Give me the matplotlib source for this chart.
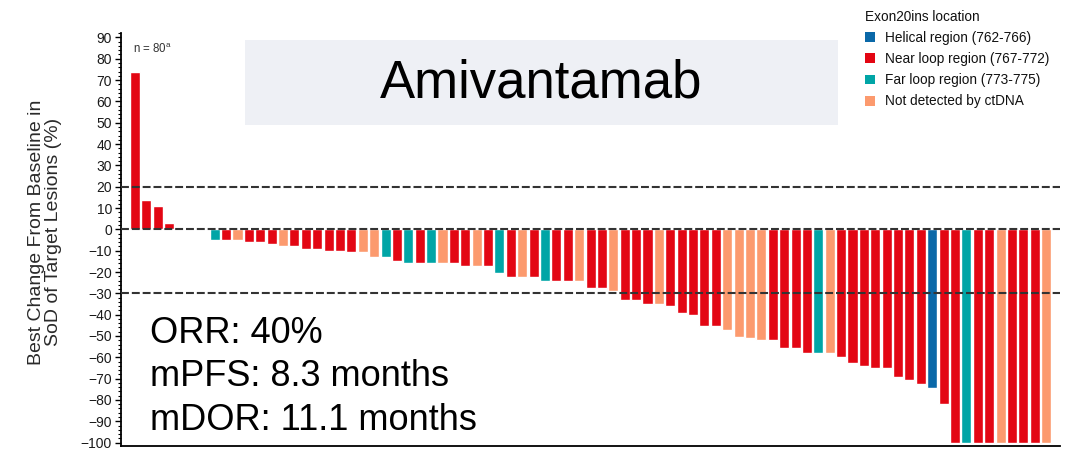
import matplotlib
matplotlib.use('Agg')
import matplotlib.pyplot as plt
import numpy as np
from matplotlib.patches import Patch, Rectangle
from matplotlib.ticker import MultipleLocator

plt.rcParams['font.family'] = ['Liberation Sans', 'DejaVu Sans']

# best change from baseline (%), ordered as in the waterfall
positive = [74, 14, 11, 3]
no_change = [0, 0, 0]
negative = [-5, -5, -5, -6, -6, -7, -8, -8, -9, -9,
            -10, -10, -10.5, -10.5, -13, -13, -14.7, -15.7, -15.7, -15.7,
            -15.7, -15.7, -17.2, -17.2, -17.2, -20.6, -22.3, -22.3, -22.3, -24,
            -24, -24, -24, -27.3, -27.3, -29, -33.3, -33.3, -35.2, -35.2,
            -36, -39.4, -40.2, -45.3, -45.3, -47, -50.3, -51.1, -52, -52,
            -55.5, -55.5, -58, -58, -58, -59.7, -62.5, -64, -65, -65,
            -69, -70.8, -72.3, -74.2, -81.7, -100, -100, -100, -100, -100,
            -100, -100, -100, -100]
# H helical, N near loop, F far loop, U not detected by ctDNA
positive_loc = ['N', 'N', 'N', 'N']
no_change_loc = ['N', 'N', 'N']
negative_loc = ['F', 'N', 'U', 'N', 'N', 'N', 'U', 'N', 'N', 'N',
                'N', 'N', 'N', 'U', 'U', 'F', 'N', 'F', 'N', 'F',
                'U', 'N', 'N', 'U', 'N', 'F', 'N', 'U', 'N', 'F',
                'N', 'N', 'U', 'N', 'N', 'U', 'N', 'N', 'N', 'U',
                'N', 'N', 'N', 'N', 'N', 'U', 'U', 'U', 'U', 'N',
                'N', 'N', 'N', 'F', 'U', 'N', 'N', 'N', 'N', 'N',
                'N', 'N', 'N', 'H', 'N', 'N', 'F', 'N', 'N', 'U',
                'N', 'N', 'N', 'U']

loc_names = {'H': 'Helical region (762-766)',
             'N': 'Near loop region (767-772)',
             'F': 'Far loop region (773-775)',
             'U': 'Not detected by ctDNA'}
loc_colors = {'H': '#0a68a8', 'N': '#e30613', 'F': '#00a5a6', 'U': '#fc9a6e'}

thresholds = [20, 0, -30]
stats = ['ORR: 40%', 'mPFS: 8.3 months', 'mDOR: 11.1 months']

values = positive + no_change + negative
locs = positive_loc + no_change_loc + negative_loc
x = np.arange(len(values))

fig = plt.figure(figsize=(10.68, 4.5), dpi=100)
ax = fig.add_axes([0.1133, 0.0093, 0.879, 0.917])
ax.set_facecolor('none')

ax.bar(x, values, width=0.88, color=[loc_colors[c] for c in locs],
       edgecolor='white', linewidth=1.0, zorder=2)

for t in thresholds:
    ax.axhline(t, color='#333333', lw=1.5, dashes=(3.8, 1.4), zorder=3)

ax.set_xlim(-1.23, 81.2)
ax.set_ylim(-101.5, 92)
ax.set_yticks(np.arange(-100, 91, 10))
ax.yaxis.set_minor_locator(MultipleLocator(2))
ax.set_xticks([])
ax.tick_params(axis='y', which='major', length=4.5, width=1.0, pad=2,
               labelsize=10, labelcolor='#1a1a1a')
ax.tick_params(axis='y', which='minor', length=2.5, width=0.8)
for s in ['top', 'right']:
    ax.spines[s].set_visible(False)
ax.spines['left'].set_linewidth(1.3)
ax.spines['bottom'].set_linewidth(1.3)

ax.set_ylabel('Best Change From Baseline in\nSoD of Target Lesions (%)',
              fontsize=14, color='#2a2a2a', linespacing=1.0)
ax.yaxis.set_label_coords(-0.063, 0.518)

ax.text(-0.2, 84.5, r'n = 80$^{\mathregular{a}}$', fontsize=8.3, color='#333333',
        ha='left', va='center')

# title box
fig.add_artist(Rectangle((245 / 1068, 1 - 125 / 450), 593 / 1068, 85 / 450,
                         transform=fig.transFigure, facecolor='#eef0f5',
                         edgecolor='none', zorder=0.5))
fig.text(541 / 1068, 1 - 84 / 450, 'Amivantamab', fontsize=38,
         ha='center', va='center', color='black', zorder=1)

for i, s in enumerate(stats):
    fig.text(150 / 1068, 1 - (343 + 43.5 * i) / 450, s, fontsize=26,
             ha='left', va='baseline', color='black')

handles = [Patch(facecolor=loc_colors[k], edgecolor='none', label=loc_names[k])
           for k in ['H', 'N', 'F', 'U']]
leg = fig.legend(handles=handles, title='Exon20ins location',
                 loc='upper left', bbox_to_anchor=(865 / 1068, 1 - 10 / 450),
                 frameon=False, fontsize=9.8, title_fontsize=9.8,
                 handlelength=0.75, handleheight=0.75, handletextpad=0.7,
                 labelspacing=0.52, borderpad=0, borderaxespad=0,
                 alignment='left')
for t in leg.get_texts():
    t.set_color('#111111')
leg.get_title().set_color('#111111')

fig.savefig('out.png', dpi=100)
